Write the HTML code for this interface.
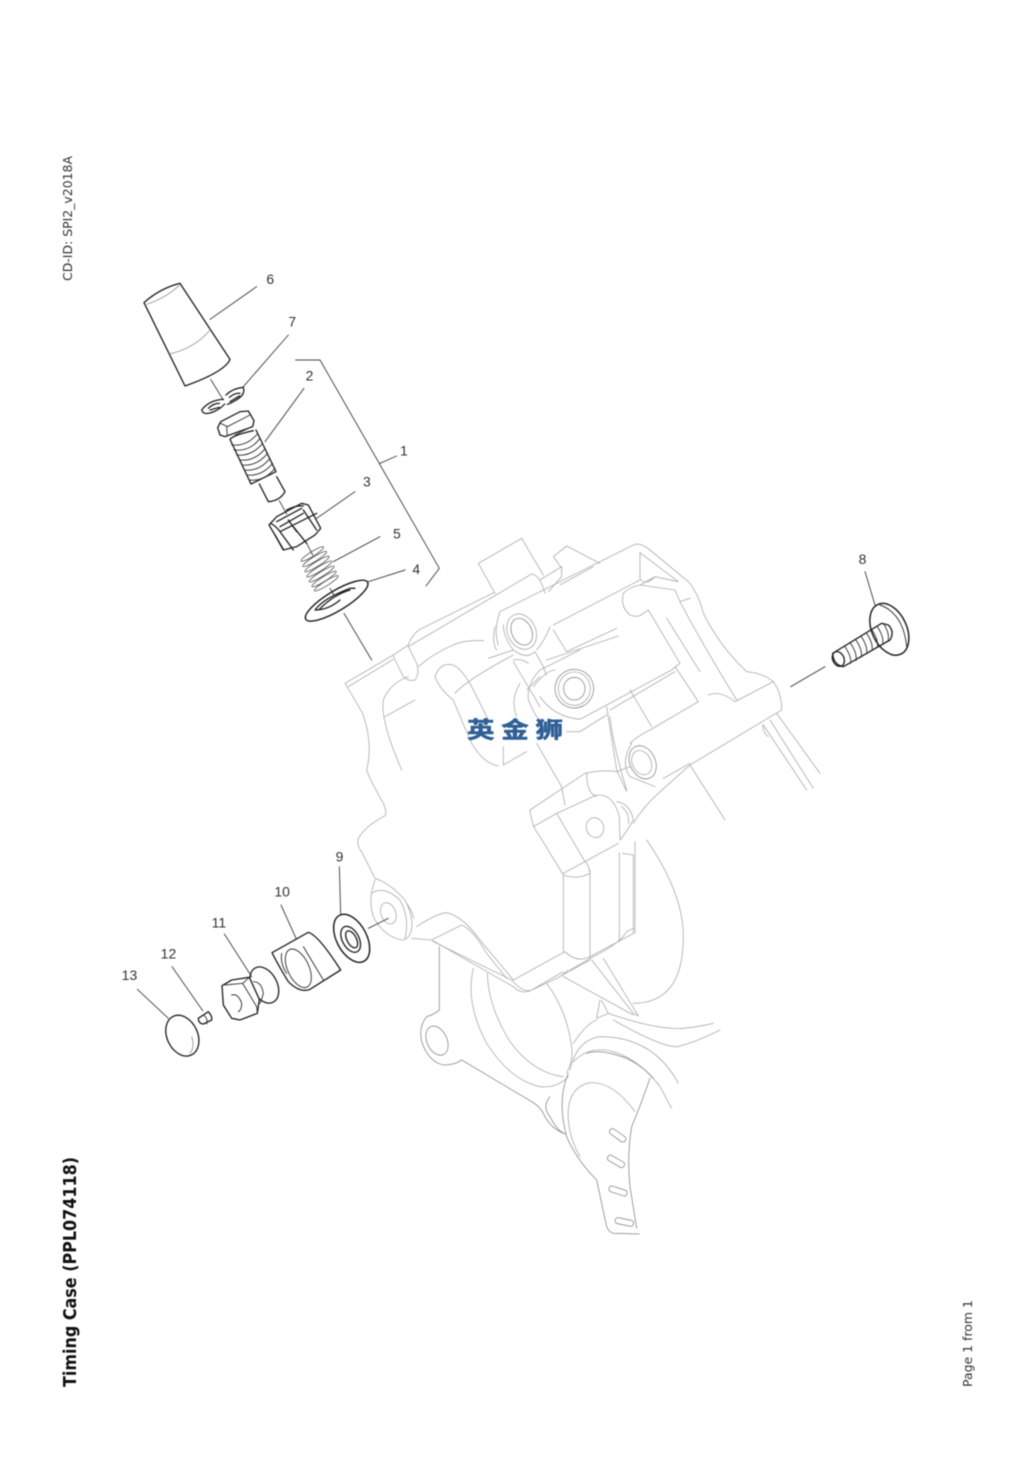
<!DOCTYPE html>
<html><head><meta charset="utf-8"><style>
html,body{margin:0;padding:0;background:#fff}
svg{display:block;filter:blur(.4px)}
.d{fill:none;stroke:#222;stroke-width:4;stroke-linejoin:round;stroke-linecap:round}
.m{fill:none;stroke:#333;stroke-width:2.8;stroke-linecap:round;stroke-linejoin:round}
.t{fill:none;stroke:#777;stroke-width:2;stroke-linecap:round;stroke-linejoin:round}
.s{fill:none;stroke:#555;stroke-width:2.4}
.l{fill:none;stroke:#444;stroke-width:2.8;stroke-linecap:round}
.c{fill:none;stroke:#adadad;stroke-width:2.5;stroke-linecap:round;stroke-linejoin:round}
.c2{fill:none;stroke:#8f8f8f;stroke-width:2.5;stroke-linecap:round;stroke-linejoin:round}
.n{font:14px "Liberation Sans",sans-serif;fill:#333}
</style></head><body>
<svg width="1033" height="1461" viewBox="0 0 1033 1461" xmlns="http://www.w3.org/2000/svg">
<rect width="1033" height="1461" fill="#fff"/>

<!-- casting upper (zoom2 coords) -->
<g transform="translate(340,530) scale(.33333)">
<path class="c" d="M15 460L160 375L205 345Q215 315 240 298L462 188M415 100L545 25L610 135M415 100L465 190M205 350L575 132Q600 135 615 190M25 470L160 388"/>
<path class="c" d="M640 80L680 48L780 100M640 80L665 115M600 150L665 110L665 140L625 185M660 165L760 110"/>
<path class="c" d="M160 378Q175 410 190 440Q205 455 225 450Q240 430 230 400L205 350"/>
<path class="c" d="M15 460L68 550Q100 640 80 720Q90 750 130 820Q145 855 130 860Q75 890 55 925Q50 950 65 965L105 1045Q150 1060 195 1110Q220 1160 215 1195Q210 1225 190 1230Q140 1225 105 1170Q80 1120 105 1050"/>
<path class="c" d="M225 510L135 560M430 332Q370 330 340 345Q280 370 235 410M205 440Q150 460 130 510Q120 570 185 720"/>
<ellipse class="c" cx="145" cy="1150" rx="22" ry="33" transform="rotate(-20 145 1150)"/>
<path class="c" d="M95 1090Q130 1065 180 1110Q210 1165 195 1225M200 1120Q215 1140 222 1165"/>
<path class="c" d="M230 1190Q290 1150 320 1148Q370 1160 420 1230L520 1350M215 1225L275 1230L520 1370Q545 1395 575 1380L670 1325M275 1230L365 1185Q400 1200 440 1270L500 1345"/>
<path class="c" d="M520 1350L675 1265Q710 1300 750 1280L835 1235L880 1210L880 975L848 970M690 1320L760 1280Q840 1240 860 1205L880 1195"/>
<path class="c" d="M670 1035L670 1265M750 1020L750 1285M838 968L838 1235M885 935L885 1210"/>
<path class="c" d="M570 840L735 730Q790 718 835 725M570 840Q575 890 600 920L670 1035Q710 1050 750 1030Q745 1000 735 995L650 850L770 795Q820 790 838 860L840 930M670 1030L835 940M580 890L650 850M740 730Q740 790 770 800"/>
<ellipse class="c" cx="765" cy="893" rx="26" ry="30" transform="rotate(-15 765 893)"/>
<path class="c" d="M830 815Q870 820 880 870Q860 905 840 930M845 830Q870 850 865 880"/>
<path class="c" d="M480 245L880 45Q900 35 930 60L1045 155Q1075 190 1090 250Q1140 350 1220 425Q1270 430 1300 455Q1325 490 1325 540L1050 705L955 790Q910 830 880 880"/>
<path class="c" d="M900 68L900 145Q915 170 945 140L1015 155L900 68M945 140L900 165M850 190Q870 170 900 165L1005 180L1020 215L1050 205M850 190Q840 230 870 255Q895 265 910 250L925 240L1020 400L995 420L800 525"/>
<path class="c" d="M980 265L1080 425M1020 215Q1080 330 1190 510M1105 495Q1140 480 1185 515L1300 455M1005 410L1075 515L930 600Q890 620 870 640M870 480L935 590M810 540L1005 425"/>
<path class="c" d="M640 285L900 150M640 300L680 365M620 390L835 318M680 365L830 295M480 245Q460 300 475 345M600 420L720 360"/>
<ellipse class="c2" cx="545" cy="305" rx="30" ry="42" transform="rotate(-25 545 305)"/>
<ellipse class="c" cx="545" cy="305" rx="42" ry="55" transform="rotate(-25 545 305)"/>
<path class="c" d="M465 290Q455 340 470 360M490 285Q490 320 520 360Q560 390 585 365L610 410L618 435M630 290Q615 330 590 360M520 390Q545 385 565 400M445 385L520 360"/>
<path class="c" d="M600 420Q560 460 565 510Q590 570 610 580M540 460Q510 510 530 560M560 480Q580 460 600 440M520 395L600 530"/>
<ellipse class="c2" cx="703" cy="476" rx="58" ry="58" transform="rotate(-25 703 476)"/>
<ellipse class="c" cx="703" cy="476" rx="48" ry="50"/>
<ellipse class="c2" cx="703" cy="476" rx="32" ry="34"/>
<path class="c" d="M580 470Q620 420 645 420M600 500Q640 560 720 568L800 525M680 605L720 605L800 555"/>
<path class="c" d="M285 440Q300 395 340 405Q370 420 400 480L445 570M285 440Q300 480 340 510Q360 560 395 640Q430 700 475 708M345 490Q380 450 520 375M490 650L490 705L560 665"/>
<path class="c" d="M590 640L665 770L675 825M800 530L830 720L860 785M810 560Q820 650 860 780M830 725L870 710"/>
<ellipse class="c2" cx="908" cy="697" rx="38" ry="52" transform="rotate(-25 908 697)"/>
<ellipse class="c" cx="905" cy="698" rx="28" ry="38" transform="rotate(-25 905 698)"/>
<path class="c" d="M875 640Q840 700 870 740L945 770M970 745L1050 700M1050 705L1155 870M1270 585L1400 780M1290 570L1420 775M1310 550L1440 730M1268 585Q1270 610 1285 620M920 930Q1030 1090 1030 1220Q1030 1420 880 1420"/>
</g>

<!-- casting lower (zoom4 coords) -->
<g transform="translate(400,930) scale(.33333)">
<path class="c2" d="M118 50L118 240Q100 255 80 260Q55 290 65 335Q85 395 130 405Q165 405 185 390L395 515Q420 530 430 550Q450 595 495 612"/>
<ellipse class="c2" cx="111" cy="332" rx="30" ry="46" transform="rotate(-25 111 332)"/>
<path class="c" d="M220 115Q195 220 260 340Q330 450 420 470Q470 475 505 440M262 130Q265 230 330 335Q400 430 490 440"/>
<path class="c" d="M440 160Q500 240 515 350Q520 390 500 430M600 210L590 265L625 250L605 212M520 340Q560 280 590 270M640 270Q780 350 830 350Q880 340 960 300M625 250Q770 300 850 295Q900 290 940 280M510 420Q530 330 600 320Q760 320 835 460M520 395Q570 345 640 365Q720 390 780 470L815 535"/>
<path class="c" d="M575 90L700 250L715 258L610 85M100 35L335 150Q370 190 395 180L470 145L570 90M480 140L505 120M490 140L700 255"/>
<path class="c2" d="M450 500Q425 530 450 560Q470 600 495 612M560 370Q600 355 680 385Q730 410 760 445"/>
<path class="c2" d="M505 430Q470 510 500 620Q530 690 590 750L620 890Q625 905 640 910L718 912M750 445Q720 530 695 590Q680 680 690 770L710 895"/>
<path class="c" d="M705 545Q640 455 570 458Q510 470 505 540Q500 610 540 680"/>
<rect class="c2" x="625" y="607" width="56" height="18" rx="8" transform="rotate(35 653 616)"/>
<rect class="c2" x="620" y="685" width="56" height="18" rx="8" transform="rotate(30 648 694)"/>
<rect class="c2" x="626" y="774" width="56" height="18" rx="8" transform="rotate(18 654 783)"/>
<rect class="c2" x="645" y="867" width="56" height="18" rx="8" transform="rotate(12 673 876)"/>
</g>

<!-- top explode parts (zoom1 coords) -->
<g transform="translate(120,260) scale(.33333)">
<path class="d" d="M72 128Q120 85 180 70L330 298Q315 335 195 378L72 128Z"/>
<path class="t" d="M80 133Q135 115 178 76M148 282Q225 265 272 208"/>
<path class="l" d="M270 178L410 80M272 358L310 420M370 380L505 225M435 545L552 385M590 775L705 695M640 905L780 830M745 965L855 930M672 1060L755 1200M478 722L500 762M630 985L642 1005M560 850L578 885"/>
<path class="l" d="M527 300L600 300L958 925L918 978M780 610L830 588"/>
<!-- ring 7 -->
<path class="d" d="M318 405Q338 385 370 382Q378 405 345 422Q332 430 322 433M328 412Q345 398 360 400M330 425L358 408"/>
<path class="d" d="M310 418Q268 420 245 450Q250 468 282 455Q302 446 314 432M265 445Q280 430 298 430M270 450L298 442"/>
<!-- bolt 2 -->
<path class="d" d="M293 503L302 485L360 455L385 453L402 482L398 500L315 530L300 525Z"/>
<path class="m" d="M302 490L322 500L390 465M320 500L322 528M345 525L385 505"/>
<path class="d" d="M330 538L393 672L468 635L408 510M330 538Q340 525 400 512"/>
<path class="m" d="M335 555Q380 560 412 522M342 570Q390 575 420 535M350 585Q395 590 428 550M358 600Q405 605 436 565M365 615Q410 620 443 580M373 630Q418 635 450 595M380 645Q425 650 458 610M388 660Q432 665 465 625"/>
<path class="d" d="M418 672L445 725Q480 722 495 695L470 650"/>
<!-- nut 3 -->
<path class="d" d="M447 795L470 770L545 730L565 735L602 805L585 825L530 860L490 870L465 825Z"/>
<path class="d" d="M452 790Q470 800 480 815L590 760M465 825L490 868M480 815L520 870M550 750L590 810M520 800L560 850"/>
<path class="d" d="M500 750Q530 735 550 738M470 785L545 745M480 800L550 760M505 780L530 815"/>
<!-- spring 5 -->
<g class="s">
<ellipse cx="577" cy="882" rx="40" ry="7" transform="rotate(-32 577 882)"/>
<ellipse cx="584" cy="897" rx="42" ry="7" transform="rotate(-32 584 897)"/>
<ellipse cx="591" cy="912" rx="43" ry="7" transform="rotate(-32 591 912)"/>
<ellipse cx="598" cy="927" rx="44" ry="7" transform="rotate(-32 598 927)"/>
<ellipse cx="605" cy="942" rx="44" ry="7" transform="rotate(-32 605 942)"/>
<ellipse cx="612" cy="957" rx="43" ry="7" transform="rotate(-32 612 957)"/>
<ellipse cx="619" cy="970" rx="42" ry="7" transform="rotate(-32 619 970)"/>
</g>
<!-- washer 4 -->
<ellipse class="d" cx="650" cy="1022" rx="108" ry="30" transform="rotate(-31 650 1022)" style="stroke-width:4.5"/>
<path class="d" d="M585 1050Q610 1015 690 985L705 985M585 1050Q625 1050 660 1020M598 1048Q640 1005 690 990"/>
<text class="n" transform="translate(439,72) scale(3)">6</text>
<text class="n" transform="translate(505,200) scale(3)">7</text>
<text class="n" transform="translate(557,362) scale(3)">2</text>
<text class="n" transform="translate(840,587) scale(3)">1</text>
<text class="n" transform="translate(729,680) scale(3)">3</text>
<text class="n" transform="translate(819,836) scale(3)">5</text>
<text class="n" transform="translate(877,942) scale(3)">4</text>
</g>

<!-- lower left parts (zoom3 coords) -->
<g transform="translate(110,840) scale(.33333)">
<path class="l" d="M775 265L835 235M688 80L692 222M513 195L558 295M343 282L425 410M186 380L278 512M82 448L175 535"/>
<ellipse class="d" cx="725" cy="295" rx="45" ry="78" transform="rotate(-28 725 295)" style="stroke-width:4.5"/>
<ellipse class="d" cx="722" cy="298" rx="25" ry="42" transform="rotate(-28 722 298)"/>
<ellipse class="d" cx="725" cy="298" rx="14" ry="28" transform="rotate(-28 725 298)"/>
<path class="d" d="M486 338L595 277Q625 285 692 390L600 448Q570 460 535 425Q510 385 486 338Z"/>
<ellipse class="m" cx="565" cy="385" rx="32" ry="62" transform="rotate(-25 565 385)"/>
<path class="m" d="M515 340Q510 370 530 400M580 320L640 420"/>
<ellipse class="d" cx="463" cy="435" rx="38" ry="58" transform="rotate(-28 463 435)"/>
<path class="m" d="M430 425Q455 425 460 460Q455 480 450 490"/>
<path class="d" fill="#fff" style="fill:#fff" d="M336 437L365 420L418 412L448 478L442 520L390 540L365 535L340 495Z"/>
<path class="m" d="M345 435L398 430L440 500L442 520M398 430L418 412"/>
<path class="m" d="M365 465Q385 460 395 490Q395 510 385 515"/>
<path class="d" d="M265 535L295 515Q308 530 305 540L280 552Q265 550 265 535Z"/>
<path class="m" d="M280 525Q295 535 290 552"/>
<ellipse class="d" cx="217" cy="587" rx="46" ry="64" transform="rotate(-25 217 587)"/>
<path class="t" d="M245 590Q255 620 240 640"/>
<text class="n" transform="translate(677,64) scale(3)">9</text>
<text class="n" transform="translate(493,170) scale(3)">10</text>
<text class="n" transform="translate(305,263) scale(3)">11</text>
<text class="n" transform="translate(152,355) scale(3)">12</text>
<text class="n" transform="translate(35,420) scale(3)">13</text>
</g>

<!-- screw 8 (zoom5 coords) -->
<g transform="translate(780,540) scale(.33333)">
<path class="l" d="M255 95L285 195M32 440L135 380"/>
<ellipse class="d" cx="328" cy="268" rx="52" ry="82" transform="rotate(-25 328 268)" style="stroke-width:4.5"/>
<path class="m" d="M300 195Q370 220 380 320"/>
<path class="d" d="M158 340Q160 375 190 380L330 300Q345 275 325 255L305 250L158 340Z"/>
<ellipse class="d" cx="175" cy="357" rx="17" ry="23" transform="rotate(-25 175 357)"/>
<path class="m" d="M195 320Q215 350 212 370M212 310Q232 340 228 362M228 300Q248 330 244 352M244 290Q264 320 260 342M260 280Q280 310 276 332M276 270Q296 300 292 322M292 260Q312 290 308 312M310 250Q330 280 324 302"/>
<text class="n" transform="translate(236,72) scale(3)">8</text>
</g>

<text transform="translate(467,738) scale(1,.82)" style="font:bold 27.5px 'Noto Sans CJK SC',sans-serif;letter-spacing:6.8px;fill:#2f5f96;stroke:#2f5f96;stroke-width:.7">英金狮</text>

<text transform="translate(76,1387) rotate(-90)" textLength="230" lengthAdjust="spacingAndGlyphs" style="font:bold 18px 'DejaVu Sans',sans-serif;fill:#111">Timing Case (PPL074118)</text>
<text transform="translate(72,281) rotate(-90)" textLength="125" lengthAdjust="spacingAndGlyphs" style="font:12px 'DejaVu Sans',sans-serif;fill:#333">CD-ID: SPI2_v2018A</text>
<text transform="translate(972,1387) rotate(-90)" textLength="87" lengthAdjust="spacingAndGlyphs" style="font:12px 'DejaVu Sans',sans-serif;fill:#333">Page 1 from 1</text>
</svg>
</body></html>
